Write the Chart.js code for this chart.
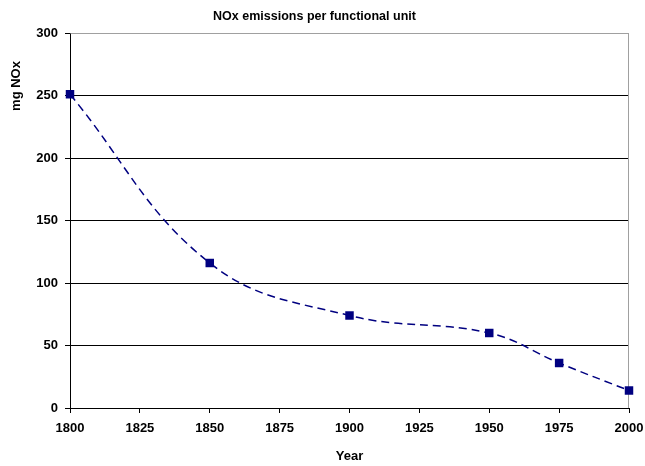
<!DOCTYPE html>
<html>
<head>
<meta charset="utf-8">
<script src="https://cdn.jsdelivr.net/npm/chart.js@4/dist/chart.umd.min.js"></script>
<style>
html,body{margin:0;padding:0;background:#fff;}
#wrap{width:645px;height:466px;}
</style>
</head>
<body>
<div id="wrap"><canvas id="c" width="645" height="466"></canvas></div>
<script>
const years = [1800, 1850, 1900, 1950, 1975, 2000];
const noxValues = [251, 116, 74, 60, 36, 14];
const xTickValues = [1800, 1825, 1850, 1875, 1900, 1925, 1950, 1975, 2000];
const yTickValues = [0, 50, 100, 150, 200, 250, 300];
const chartTitle = 'NOx emissions per functional unit';
const xTitle = 'Year';
const yTitle = 'mg NOx';

const FONT = 'Liberation Sans, Arial, sans-serif';

const yTitlePlugin = {
  id: 'yTitle',
  afterDraw(chart) {
    const ctx = chart.ctx;
    ctx.save();
    ctx.font = 'bold 13px ' + FONT;
    ctx.fillStyle = '#000';
    ctx.textAlign = 'center';
    ctx.textBaseline = 'middle';
    ctx.translate(16, 86);
    ctx.rotate(-Math.PI / 2);
    ctx.fillText(yTitle, 0, 0);
    ctx.restore();
  }
};

const borderPlugin = {
  id: 'frame',
  beforeDatasetsDraw(chart) {
    const a = chart.chartArea, ctx = chart.ctx;
    ctx.save();
    ctx.strokeStyle = '#a0a0a0';
    ctx.lineWidth = 1;
    ctx.beginPath();
    ctx.moveTo(Math.round(a.left) + 0.5, Math.round(a.top) + 0.5);
    ctx.lineTo(Math.round(a.right) - 0.5, Math.round(a.top) + 0.5);
    ctx.lineTo(Math.round(a.right) - 0.5, Math.round(a.bottom));
    ctx.stroke();
    ctx.restore();
  }
};

new Chart(document.getElementById('c'), {
  type: 'line',
  data: {
    datasets: [{
      data: years.map((y, i) => ({x: y, y: noxValues[i]})),
      borderColor: '#000080',
      backgroundColor: '#000080',
      borderWidth: 1.5,
      borderDash: [8, 5],
      tension: 0.4,
      pointStyle: 'rect',
      pointRadius: 6,
      pointBorderWidth: 0,
      fill: false,
      clip: false
    }]
  },
  options: {
    responsive: false,
    animation: false,
    events: [],
    layout: {padding: {left: 0, right: 16, top: 0, bottom: 0}},
    plugins: {
      legend: {display: false},
      tooltip: {enabled: false},
      title: {
        display: true,
        text: chartTitle,
        color: '#000',
        font: {family: FONT, size: 12.5, weight: 'bold'},
        padding: {top: 9, bottom: 9}
      }
    },
    scales: {
      x: {
        type: 'linear',
        min: 1800,
        max: 2000,
        afterBuildTicks: s => { s.ticks = xTickValues.map(v => ({value: v})); },
        afterFit: s => { s.height = 58; s.paddingLeft = 0; s.paddingRight = 0; },
        ticks: {color: '#000', font: {family: FONT, size: 13, weight: 'bold'}, padding: 8, maxRotation: 0, autoSkip: false, callback: v => String(v)},
        grid: {drawOnChartArea: false, drawTicks: true, tickLength: 5, color: '#000'},
        border: {color: '#000', width: 1},
        title: {display: true, text: xTitle, color: '#000', font: {family: FONT, size: 13, weight: 'bold'}, padding: {top: 0, bottom: 2}}
      },
      y: {
        min: 0,
        max: 300,
        afterBuildTicks: s => { s.ticks = yTickValues.map(v => ({value: v})); },
        afterFit: s => { s.width = 70; s.paddingTop = 0; s.paddingBottom = 0; },
        ticks: {color: '#000', font: {family: FONT, size: 13, weight: 'bold'}, padding: 7, callback: v => String(v)},
        grid: {color: c => (c.tick && c.tick.value === 300) ? '#a0a0a0' : '#000', tickColor: '#000', tickLength: 5, drawTicks: true},
        border: {color: '#000', width: 1}
      }
    }
  },
  plugins: [yTitlePlugin, borderPlugin]
});
</script>
</body>
</html>
